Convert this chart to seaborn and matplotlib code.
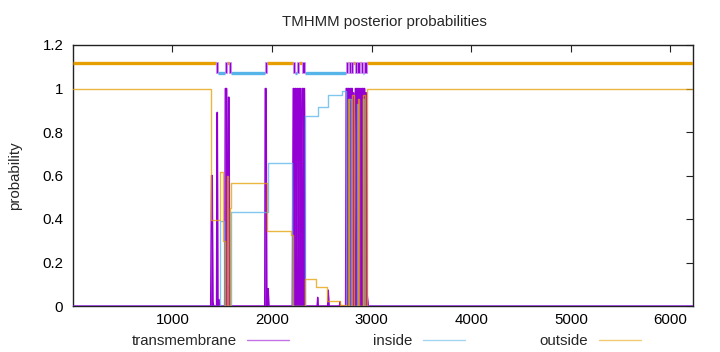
import numpy as np
import pandas as pd
import matplotlib
matplotlib.use("Agg")
import matplotlib.pyplot as plt
from matplotlib.lines import Line2D
from matplotlib.ticker import FormatStrFormatter
import seaborn as sns

# ---------------- data ----------------
seq_len = 6224

# transmembrane posterior (piecewise profile)
tm_x = [1, 1383, 1392, 1400, 1406, 1415, 1442, 1447, 1451, 1456, 1466, 1475,
        1524, 1530, 1544, 1550, 1556, 1562, 1568, 1576,
        1926, 1931, 1941, 1947, 1955, 1962, 1968,
        2203, 2212, 2220, 2226, 2232, 2240, 2246, 2252, 2262, 2268, 2275, 2284,
        2292, 2300, 2312, 2317, 2320, 2326, 2334,
        2452, 2458, 2464, 2558, 2565, 2572, 2676, 2682, 2688,
        2738, 2744, 2754, 2758, 2762, 2770, 2775, 2779, 2787, 2792, 2796, 2806,
        2810, 2813, 2820, 2828, 2836, 2848, 2853, 2858, 2870, 2875, 2879, 2887,
        2893, 2899, 2912, 2917, 2921, 2930, 2935, 2939, 2948, 2956, 2966, 6224]
tm_y = [0, 0, 0.60, 0.60, 0.02, 0, 0, 0.89, 0.89, 0.02, 0.03, 0,
        0, 1.0, 1.0, 0.10, 0.10, 0.96, 0.96, 0,
        0, 1.0, 1.0, 0.02, 0.08, 0.08, 0,
        0, 1.0, 1.0, 0.20, 1.0, 1.0, 0.15, 1.0, 1.0, 0.10, 1.0, 1.0,
        0.20, 1.0, 1.0, 0.60, 1.0, 1.0, 0,
        0, 0.04, 0, 0, 0.073, 0, 0, 0.02, 0,
        0, 1.0, 1.0, 0.40, 1.0, 1.0, 0.40, 1.0, 1.0, 0.40, 1.0, 1.0,
        0.50, 0.98, 0.98, 0.30, 1.0, 1.0, 0.40, 1.0, 1.0, 0.50, 1.0, 1.0,
        0.40, 1.0, 1.0, 0.40, 1.0, 1.0, 0.50, 0.98, 0.98, 0.05, 0, 0]

# inside posterior (step breakpoints)
inside_x = [1, 1477, 1515, 1588, 1962, 2197, 2331, 2465, 2565, 2700,
            2745, 2775, 2790, 2850, 2862, 2915, 2928, 6224]
inside_y = [0.0, 0.39, 0.0, 0.432, 0.656, 0.0, 0.873, 0.913, 0.970, 0.99,
            0.0, 0.95, 0.0, 0.93, 0.0, 0.95, 0.0, 0.0]

# outside posterior (step breakpoints)
outside_x = [1, 1387, 1477, 1512, 1528, 1547, 1560, 1576, 1588, 1946, 2190,
             2207, 2331, 2441, 2548, 2682, 2745, 2760, 2775, 2805, 2820,
             2860, 2875, 2915, 2930, 2958, 6224]
outside_y = [1.0, 0.395, 0.616, 0.3, 0.0, 0.6, 0.0, 0.45, 0.567, 0.345, 0.327,
             0.0, 0.124, 0.086, 0.022, 0.006, 0.0, 0.95, 0.0, 0.97, 0.0,
             0.95, 0.0, 0.97, 0.0, 1.0, 1.0]

# predicted topology (segments)
seg_start = [1, 1437, 1460, 1527, 1544, 1568, 1588, 1930, 1952, 2207, 2230,
             2250, 2275, 2300, 2331, 2740, 2762, 2768, 2790, 2795, 2816, 2833,
             2852, 2857, 2883, 2893, 2918, 2923, 2950]
seg_end = seg_start[1:] + [seq_len]
seg_type = ["outside", "TM", "inside", "TM", "outside", "TM", "inside", "TM",
            "outside", "TM", "inside", "TM", "outside", "TM", "inside", "TM",
            "outside", "TM", "inside", "TM", "outside", "TM", "inside", "TM",
            "outside", "TM", "inside", "TM", "outside"]

legend_labels = ["transmembrane", "inside", "outside"]
x_ticks = [1000, 2000, 3000, 4000, 5000, 6000]
y_ticks = [0, 0.2, 0.4, 0.6, 0.8, 1.0, 1.2]

# ---------------- style ----------------
sns.set_theme(style="white")
plt.rcParams["font.family"] = ["Liberation Sans", "DejaVu Sans"]
FS = 10.8

c_tm = "#9400d3"
c_in = "#56b4e9"
c_out = "#e69f00"

fig = plt.figure(figsize=(7.2, 3.52), dpi=100)
ax = fig.add_axes([73 / 720, 1 - 306 / 352, (692.7 - 73) / 720, 261 / 352])

# transmembrane impulses
ax.fill_between(tm_x, 0, tm_y, color=c_tm, lw=0, zorder=2)
sns.lineplot(x=tm_x, y=tm_y, color=c_tm, lw=1.0, estimator=None, sort=False,
             ax=ax, zorder=3)

# inside / outside
sns.lineplot(x=inside_x, y=inside_y, color=c_in, lw=1.0, alpha=0.75,
             drawstyle="steps-post", estimator=None, sort=False, ax=ax, zorder=4)
sns.lineplot(x=outside_x, y=outside_y, color=c_out, lw=1.0, alpha=0.75,
             drawstyle="steps-post", estimator=None, sort=False, ax=ax, zorder=5)

# topology band
seg = pd.DataFrame({"start": seg_start, "end": seg_end, "type": seg_type})
o = seg[seg.type == "outside"]
i = seg[seg.type == "inside"]
t = seg[seg.type == "TM"]
ax.hlines(np.full(len(o), 1.116), o.start.values, o.end.values,
          color=c_out, lw=2.4, zorder=6)
ax.hlines(np.full(len(i), 1.073), i.start.values, i.end.values,
          color=c_in, lw=2.4, zorder=6)
ax.bar(t.start.values, 0.05, width=(t.end - t.start).values, bottom=1.07,
       align="edge", color=c_tm, edgecolor="#c88cf0", lw=0.5, zorder=7)

ax.set_xlim(1, seq_len)
ax.set_ylim(0, 1.2)
ax.set_xticks(x_ticks)
ax.set_yticks(y_ticks)
ax.yaxis.set_major_formatter(FormatStrFormatter("%g"))
ax.set_xlabel("")
ax.set_ylabel("")
ax.tick_params(direction="in", length=5, width=0.8, colors="#222222",
               top=True, right=True, labelsize=FS, pad=5)
ax.tick_params(axis="x", labelcolor="black")
ax.tick_params(axis="y", labelcolor="black", pad=7)
for s in ax.spines.values():
    s.set_visible(True)
    s.set_color("#222222")
    s.set_linewidth(1.0)

fig.text(384 / 720, 1 - 22 / 352, "TMHMM posterior probabilities",
         ha="center", va="center", fontsize=FS)
fig.text(15 / 720, 1 - 175.5 / 352, "probability", rotation=90,
         ha="center", va="center", fontsize=FS)

# legend below (text before the sample, as in gnuplot)
colors = [c_tm, c_in, c_out]
anchors = [289 / 720, 465 / 720, 641 / 720]
for lab, col, xa in zip(legend_labels, colors, anchors):
    h = Line2D([], [], color=col, lw=1.0, alpha=0.55)
    leg = ax.legend(handles=[h], labels=[lab], markerfirst=False,
                    loc="center right", bbox_to_anchor=(xa, 1 - 341 / 352),
                    bbox_transform=fig.transFigure, frameon=False,
                    handlelength=2.8, handletextpad=0.7, borderpad=0,
                    borderaxespad=0, fontsize=FS)
    ax.add_artist(leg)
ax.legend_ = None

fig.savefig("out.png", dpi=100)
